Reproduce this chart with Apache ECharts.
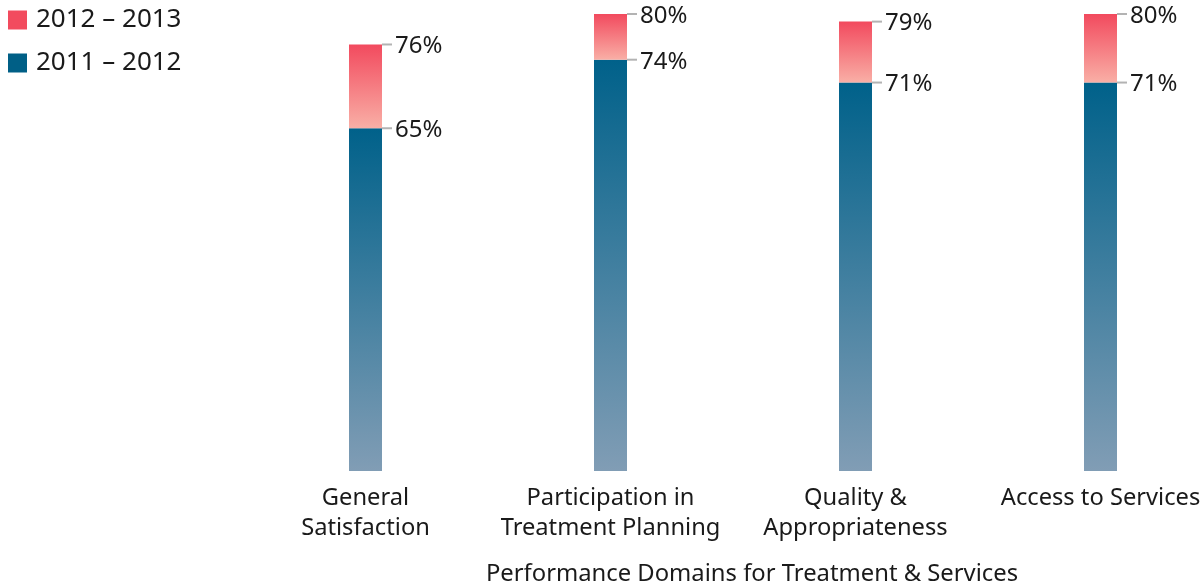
<!DOCTYPE html>
<html><head><meta charset="utf-8">
<script src="https://cdn.jsdelivr.net/npm/echarts@6/dist/echarts.min.js"></script>
<style>html,body{margin:0;padding:0;background:#fff}#c{width:1204px;height:588px}</style>
</head><body><div id="c"></div>
<script>
const categories = ['General\nSatisfaction', 'Participation in\nTreatment Planning', 'Quality &\nAppropriateness', 'Access to Services'];
const seriesNames = ['2011 – 2012', '2012 – 2013'];
const values2011 = [65, 74, 71, 71];
const values2013 = [76, 80, 79, 80];
const axisTitle = 'Performance Domains for Treatment & Services';

const FONT = '"Noto Sans"';
const increase = values2013.map((v, i) => v - values2011[i]);
const BAR_W = 33;

const chart = echarts.init(document.getElementById('c'));
const labelData = [];
values2011.forEach((v, i) => labelData.push([i, v]));
values2013.forEach((v, i) => labelData.push([i, v]));

chart.setOption({
  animation: false,
  textStyle: { fontFamily: FONT },
  legend: {
    orient: 'vertical', left: 3, top: 2, itemWidth: 19, itemHeight: 19, itemGap: 17,
    icon: 'rect',
    textStyle: { fontSize: 26, color: '#1a1a1a', fontFamily: FONT, padding: [0, 0, 0, 4] },
    data: [
      { name: seriesNames[1], itemStyle: { color: '#F24B5E' } },
      { name: seriesNames[0], itemStyle: { color: '#005F86' } }
    ]
  },
  grid: { left: 243, top: 14, width: 980, height: 457, outerBoundsMode: 'none', containLabel: false },
  xAxis: {
    type: 'category', data: categories,
    axisLine: { show: false }, axisTick: { show: false },
    axisLabel: { fontSize: 23.7, color: '#1a1a1a', lineHeight: 30, margin: 12, interval: 0, fontFamily: FONT },
    name: axisTitle, nameLocation: 'middle', nameGap: 91,
    nameTextStyle: { fontSize: 23.8, color: '#1a1a1a', padding: [0, 0, 0, 38], fontFamily: FONT }
  },
  yAxis: {
    type: 'value', min: 20, max: 80, startValue: 20, show: false,
    splitLine: { show: false }
  },
  series: [
    {
      name: seriesNames[0], type: 'bar', stack: 's', barWidth: BAR_W, data: values2011,
      itemStyle: { color: new echarts.graphic.LinearGradient(0, 0, 0, 1, [
        { offset: 0, color: '#00618A' }, { offset: 1, color: '#819DB5' }]) }
    },
    {
      name: seriesNames[1], type: 'bar', stack: 's', barWidth: BAR_W, data: increase,
      itemStyle: { color: new echarts.graphic.LinearGradient(0, 0, 0, 1, [
        { offset: 0, color: '#F24A5E' }, { offset: 1, color: '#F9AFA6' }]) }
    },
    {
      type: 'custom', data: labelData, silent: true, z: 10,
      renderItem: function (params, api) {
        const p = api.coord([api.value(0), api.value(1)]);
        const x0 = p[0] + BAR_W / 2;
        return {
          type: 'group',
          children: [
            { type: 'line', shape: { x1: x0, y1: p[1], x2: x0 + 10, y2: p[1] },
              style: { stroke: '#b3b3b3', lineWidth: 2 } },
            { type: 'text', x: x0 + 13, y: p[1] + 2,
              style: { text: api.value(1) + '%', font: '24px ' + FONT, fill: '#1a1a1a',
                textAlign: 'left', textVerticalAlign: 'middle' } }
          ]
        };
      }
    }
  ]
});
</script></body></html>
